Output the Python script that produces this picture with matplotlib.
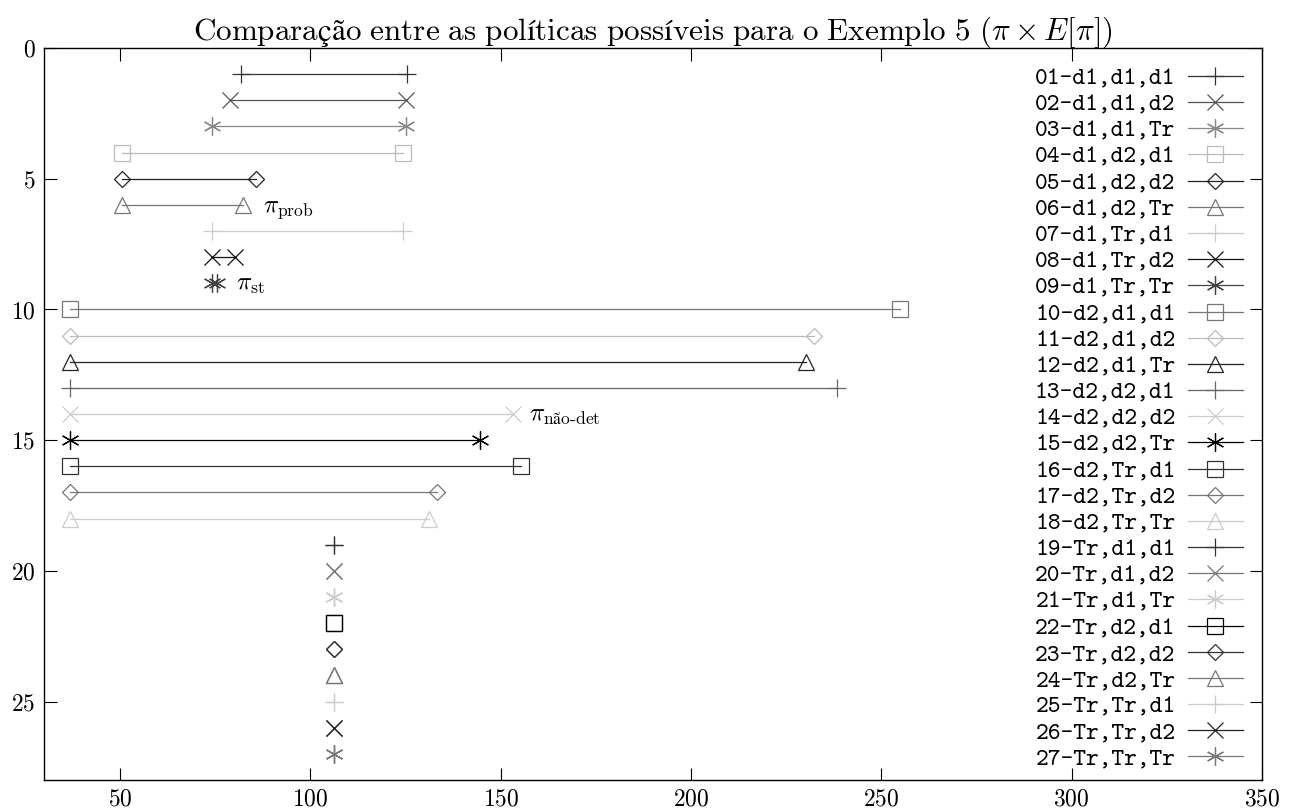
import matplotlib
matplotlib.use('Agg')
import matplotlib.pyplot as plt

plt.rcParams['font.family'] = ['cmr10', 'DejaVu Serif']
plt.rcParams['mathtext.fontset'] = 'cm'
plt.rcParams['axes.formatter.use_mathtext'] = True

labels = ['01-d1,d1,d1', '02-d1,d1,d2', '03-d1,d1,Tr', '04-d1,d2,d1', '05-d1,d2,d2',
          '06-d1,d2,Tr', '07-d1,Tr,d1', '08-d1,Tr,d2', '09-d1,Tr,Tr', '10-d2,d1,d1',
          '11-d2,d1,d2', '12-d2,d1,Tr', '13-d2,d2,d1', '14-d2,d2,d2', '15-d2,d2,Tr',
          '16-d2,Tr,d1', '17-d2,Tr,d2', '18-d2,Tr,Tr', '19-Tr,d1,d1', '20-Tr,d1,d2',
          '21-Tr,d1,Tr', '22-Tr,d2,d1', '23-Tr,d2,d2', '24-Tr,d2,Tr', '25-Tr,Tr,d1',
          '26-Tr,Tr,d2', '27-Tr,Tr,Tr']
# minimo e maximo de E[pi] para cada politica
x_min = [81.8, 78.9, 74.2, 50.5, 50.5, 50.5, 74.2, 74.2, 74.2, 36.8,
         36.8, 36.8, 36.8, 36.8, 36.8, 36.8, 36.8, 36.8, 106.3, 106.3,
         106.3, 106.3, 106.3, 106.3, 106.3, 106.3, 106.3]
x_max = [125.4, 125.2, 125.2, 124.4, 85.7, 82.3, 124.4, 80.2, 75.5, 254.8,
         232.2, 230.1, 238.3, 153.3, 144.6, 155.2, 133.3, 131.2, 106.3, 106.3,
         106.3, 106.3, 106.3, 106.3, 106.3, 106.3, 106.3]
colors = ['#333333', '#555555', '#888888', '#bbbbbb', '#222222', '#777777', '#cccccc',
          '#111111', '#444444', '#777777', '#bbbbbb', '#222222', '#666666', '#cccccc',
          '#000000', '#333333', '#777777', '#cccccc', '#333333', '#777777', '#cccccc',
          '#000000', '#333333', '#777777', '#cccccc', '#222222', '#777777']
marks = ['+', 'x', (6, 2, 0), 's', 'D', '^']
sizes = [13, 12, 13, 11, 8, 12]

fig = plt.figure(figsize=(12.91, 8.11), dpi=100)
ax = fig.add_axes([0.0341, 0.0382, 0.9434, 0.9026])

for i in range(len(labels)):
    ax.plot([x_min[i], x_max[i]], [i + 1, i + 1], color=colors[i], lw=0.9,
            marker=marks[i % 6], ms=sizes[i % 6], mfc='none', mec=colors[i], mew=0.9,
            label=labels[i])

ax.text(87.5, 6.25, r'$\pi_{\rm prob}$', fontsize=18)
ax.text(80.5, 9.25, r'$\pi_{\rm st}$', fontsize=18)
ax.text(157.5, 14.25, r'$\pi_{\rm não\text{-}det}$', fontsize=18)

ax.set_xlim(30, 350)
ax.set_ylim(28, 0)
ax.set_xticks([50, 100, 150, 200, 250, 300, 350])
ax.set_yticks([0, 5, 10, 15, 20, 25])
ax.tick_params(direction='in', length=9, width=0.8, top=True, right=True, labelsize=17, pad=6)
for s in ax.spines.values():
    s.set_linewidth(1.0)

ax.set_title(r'$\mathrm{Comparação\ entre\ as\ políticas\ possíveis\ para\ o\ Exemplo\ 5\ }(\pi \times E[\pi])$',
             fontsize=22.4, pad=6)

leg = ax.legend(loc='upper right', frameon=False, markerfirst=False,
                prop={'family': 'cmtt10', 'size': 17.5}, labelspacing=0.13,
                handlelength=2.26, handletextpad=0.5, borderaxespad=0.5,
                borderpad=0.3)

plt.savefig('out.png', dpi=100)
